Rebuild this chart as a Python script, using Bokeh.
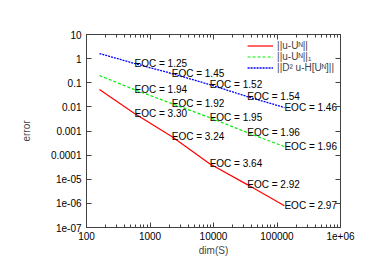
from bokeh.plotting import figure
from bokeh.models import FixedTicker, LogAxis, Legend, LegendItem, ColumnDataSource
from bokeh.core.properties import value
from bokeh.embed import file_html
from bokeh.resources import INLINE

dims = [160, 570, 2200, 8700, 34000, 131000]
err_l2 = [0.052, 0.0053, 5.9e-4, 4.4e-5, 6.0e-6, 8.0e-7]
err_h1 = [0.199, 0.052, 0.0137, 0.0036, 8.6e-4, 2.25e-4]
err_d2 = [1.63, 0.63, 0.241, 0.084, 0.0267, 0.0094]
eoc_l2 = ["3.30", "3.24", "3.64", "2.92", "2.97"]
eoc_h1 = ["1.94", "1.92", "1.95", "1.96", "1.96"]
eoc_d2 = ["1.25", "1.45", "1.52", "1.54", "1.46"]
labels = ["||u-U\u1d3a||", "||u-U\u1d3a||\u2081", "||D\u00b2 u-H[U\u1d3a]||"]
x_ticks = [100, 1000, 10000, 100000, 1000000]
x_tick_labels = ["100", "1000", "10000", "100000", "1e+06"]
y_ticks = [10, 1, 0.1, 0.01, 0.001, 0.0001, 1e-05, 1e-06, 1e-07]
y_tick_labels = ["10", "1", "0.1", "0.01", "0.001", "0.0001", "1e-05", "1e-06", "1e-07"]

FONT = "Liberation Sans"
FS = "10px"

p = figure(width=380, height=268, x_axis_type="log", y_axis_type="log",
           x_range=(100, 1e6), y_range=(1e-7, 10),
           output_backend="svg", toolbar_location=None,
           min_border_left=86, min_border_right=40, min_border_top=34, min_border_bottom=41)
p.xgrid.visible = False
p.ygrid.visible = False
p.outline_line_color = "#404040"
p.background_fill_color = "white"
p.border_fill_color = "white"

def minor(lo, hi):
    out = []
    e = lo
    while e < hi:
        for k in range(2, 10):
            out.append(k * 10.0 ** e)
        e += 1
    return out

def style(ax):
    ax.axis_line_color = "#404040"
    ax.major_tick_in = 5
    ax.major_tick_out = 0
    ax.minor_tick_in = 3
    ax.minor_tick_out = 0
    ax.major_tick_line_color = "#404040"
    ax.minor_tick_line_color = "#404040"
    ax.major_label_text_font = FONT
    ax.major_label_text_font_size = FS
    ax.major_label_text_color = "black"
    ax.axis_label_text_font = FONT
    ax.axis_label_text_font_size = FS
    ax.axis_label_text_font_style = "normal"

xa = p.xaxis[0]
xa.ticker = FixedTicker(ticks=x_ticks, minor_ticks=minor(2, 6))
style(xa)
xa.major_label_overrides = {t: l for t, l in zip(x_ticks, x_tick_labels)}
xa.axis_label = "dim(S)"
xa.major_label_standoff = 4
xa.axis_label_standoff = 2

ya = p.yaxis[0]
ya.ticker = FixedTicker(ticks=y_ticks, minor_ticks=[])
style(ya)
ya.major_label_overrides = {t: l for t, l in zip(y_ticks, y_tick_labels)}
ya.axis_label = "error"
ya.major_label_standoff = 5
ya.axis_label_standoff = 16
ya.minor_tick_in = 0

top = LogAxis(ticker=FixedTicker(ticks=x_ticks, minor_ticks=minor(2, 6)))
style(top)
top.major_label_text_color = None
p.add_layout(top, "above")
right = LogAxis(ticker=FixedTicker(ticks=y_ticks, minor_ticks=[]))
style(right)
right.major_label_text_color = None
right.minor_tick_in = 0
p.add_layout(right, "right")

r1 = p.line(dims, err_l2, line_color="red", line_width=1.2)
r2 = p.line(dims, err_h1, line_color="#00ee00", line_width=1.2, line_dash="3 2")
r3 = p.line(dims, err_d2, line_color="blue", line_width=1.3, line_dash="2 1")

for errs, eocs in [(err_l2, eoc_l2), (err_h1, eoc_h1), (err_d2, eoc_d2)]:
    src = ColumnDataSource(dict(x=dims[1:], y=errs[1:], t=["EOC = " + e for e in eocs]))
    p.text(x="x", y="y", text="t", source=src, text_align="left", text_baseline="middle",
           text_font=value(FONT), text_font_size=FS, text_color="black")

leg = Legend(items=[LegendItem(label=labels[0], renderers=[r1]),
                    LegendItem(label=labels[1], renderers=[r2]),
                    LegendItem(label=labels[2], renderers=[r3])],
             location="top_right", border_line_color=None, background_fill_alpha=0,
             label_text_font=FONT, label_text_font_size=FS, spacing=0,
             label_height=9, glyph_height=9, glyph_width=26, padding=2, margin=6,
             label_standoff=4)
p.add_layout(leg, "center")

open("out.html", "w").write(file_html(p, INLINE))
